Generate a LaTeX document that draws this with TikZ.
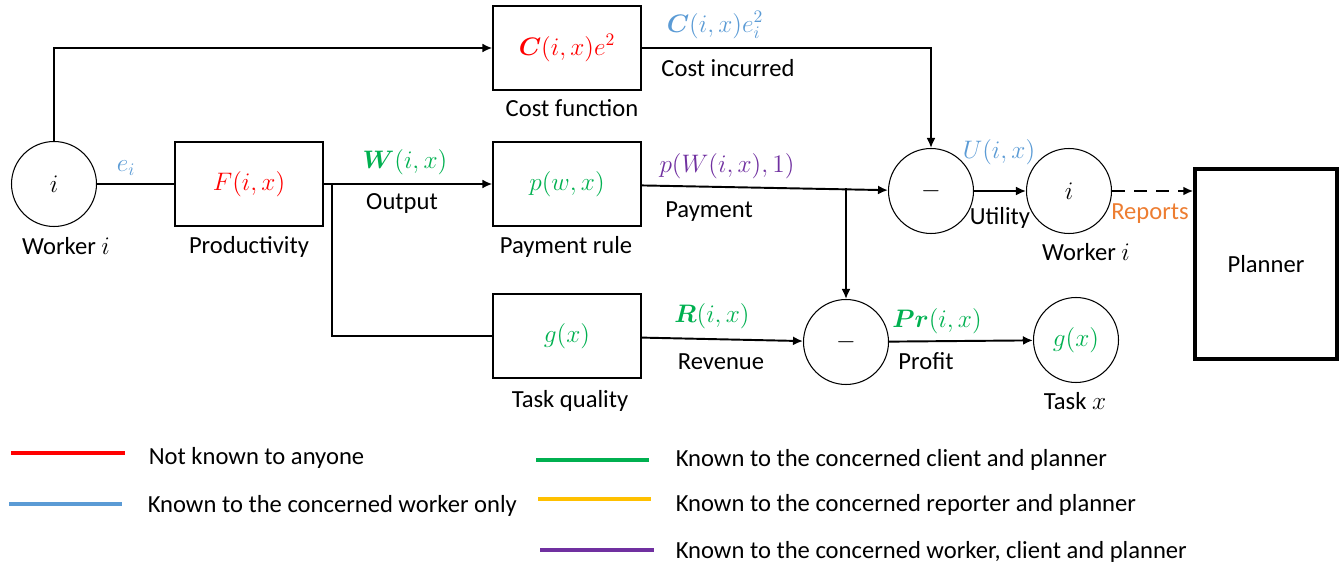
\documentclass[tikz,border=0pt]{standalone}
\usepackage{amsmath}
\usepackage{fontspec}
\setmainfont{Carlito}
\usetikzlibrary{arrows.meta}
\definecolor{cred}{HTML}{FF0000}
\definecolor{cblue}{HTML}{5B9BD5}
\definecolor{cgreen}{HTML}{00B050}
\definecolor{cyellow}{HTML}{FFC000}
\definecolor{cpurple}{HTML}{7030A0}
\definecolor{corange}{HTML}{ED7D31}
\begin{document}
\begin{tikzpicture}[x=0.02cm,y=-0.02cm,font=\fontsize{14}{16}\selectfont]
      \useasboundingbox (0,0) rectangle (1343,567);
      \begin{scope}[every node/.style={draw,line width=0.75pt,minimum width=2.96cm,minimum height=1.68cm}]
        \node (F) at (249,184) {$\color{cred}F(i,x)$};
        \node (C) at (567,48)  {$\color{cred}\boldsymbol{C}(i,x)e^2$};
        \node (P) at (567,184) {$\color{cgreen}p(w,x)$};
        \node (G) at (567,336) {$\color{cgreen}g(x)$};
        \node[line width=2pt,minimum width=2.84cm,minimum height=3.8cm] (Pl) at (1266,264) {Planner};
      \end{scope}
      \begin{scope}[every node/.style={circle,draw,line width=0.6pt,minimum size=1.7cm,inner sep=0pt}]
        \node (Wk)  at (54,184)   {$i$};
        \node (M1)  at (931,191)  {$-$};
        \node (Wk2) at (1069,191) {$i$};
        \node (M2)  at (846,342)  {$-$};
        \node (T)   at (1076,340) {$\color{cgreen}g(x)$};
      \end{scope}
      % captions and labels
      \node (lWk)  at (66,246)   {Worker $i$};
      \node (lF)   at (249,247)  {Productivity};
      \node (lC)   at (572,108)  {Cost function};
      \node (lP)   at (566,247)  {Payment rule};
      \node (lG)   at (570,401)  {Task quality};
      \node (lWk2) at (1086,252) {Worker $i$};
      \node (lT)   at (1075,401) {Task $x$};
      \node (ei)   at (126,168)  {$\color{cblue}e_i$};
      \node (W)    at (405,162)  {$\color{cgreen}\boldsymbol{W}(i,x)$};
      \node (out)  at (402,204)  {Output};
      \node (Ce)   at (715,25)   {$\color{cblue}\boldsymbol{C}(i,x)e_i^2$};
      \node (cost) at (728,68)   {Cost incurred};
      \node (pW)   at (727,166)  {$\color{cpurple}p(W(i,x),1)$};
      \node (pay)  at (709,212)  {Payment};
      \node (U)    at (999,152)  {$\color{cblue}U(i,x)$};
      \node (util) at (1000,218) {Utility};
      \node (rep)  at (1150,214) {\color{corange}Reports};
      \node (R)    at (712,316)  {$\color{cgreen}\boldsymbol{R}(i,x)$};
      \node (rev)  at (721,362)  {Revenue};
      \node (Pr)   at (937,321)  {$\color{cgreen}\boldsymbol{Pr}(i,x)$};
      \node (prof) at (926,361)  {Profit};
      \coordinate (br) at (332,184);
      \coordinate (pb) at (846,188.5);
      \begin{scope}[>={Latex[length=2mm,width=1.8mm]},every edge/.style={draw=black,line width=1.1pt}]
        \path (Wk) edge (F);        \path (F) edge[->] (P);
        \path (P) edge[->] (M1);    \path (M1) edge[->] (Wk2);
        \path (G) edge[->] (M2);    \path (M2) edge[->] (T);
        \path (pb) edge[->] (M2);
        \draw[line width=1.1pt,->] (Wk.north) |- (C.west);
        \draw[line width=1.1pt,->] (C.east) -| (M1.north);
        \draw[line width=1.1pt] (br) |- (G.west);
        \draw[line width=1.6pt,dash pattern=on 2.6mm off 1.8mm,->] (Wk2) -- (Wk2 -| Pl.west);
      \end{scope}
      % legend
      \begin{scope}[every node/.style={anchor=west,text=black},line width=2.2pt]
        \draw[cred]    (11,453) -- (125,453)  node (k1) at (141,458) {Not known to anyone};
        \draw[cblue]   (9,504)  -- (122,504)  node (k2) at (140,506) {Known to the concerned worker only};
        \draw[cgreen]  (536,460) -- (649,460) node (k3) at (668,460) {Known to the concerned client and planner};
        \draw[cyellow] (538,499) -- (651,499) node (k4) at (668,505) {Known to the concerned reporter and planner};
        \draw[cpurple] (540,550) -- (654,550) node (k5) at (668,552) {Known to the concerned worker, client and planner};
      \end{scope}
    \end{tikzpicture}
\end{document}
